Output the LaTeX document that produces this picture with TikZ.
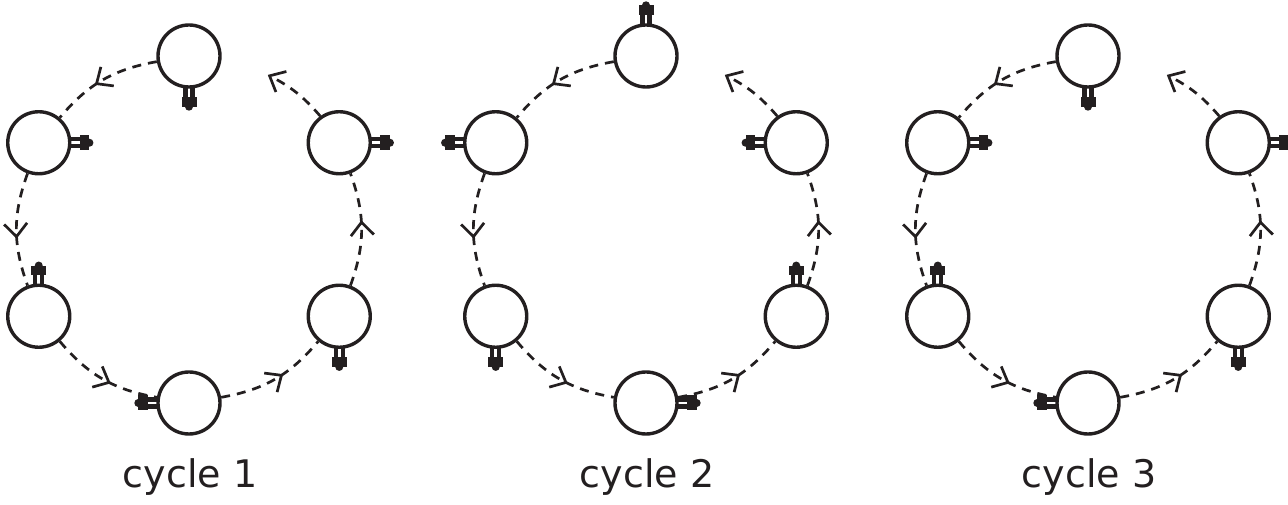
\documentclass[tikz,border=0pt]{standalone}
\usepackage{fontspec}
\setmainfont{DejaVu Sans}
\usetikzlibrary{arrows.meta,decorations.markings}
\definecolor{ink}{HTML}{231F20}
\tikzset{
  phil/.style={circle, draw=ink, line width=3.4pt, minimum size=62pt, inner sep=0pt},
  flow/.style={draw=ink, line width=2.7pt, dash pattern=on 9pt off 7pt},
  midarrow/.style={postaction={decorate}, decoration={markings,
      mark=at position 0.58 with {\arrow{Straight Barb[length=13pt,width=23pt]}}}},
  endarrow/.style={-{Straight Barb[length=13pt,width=23pt]}},
  forkpic/.pic={
    \fill[ink] (-1,1.4) rectangle (9,5.6);
    \fill[ink] (-1,-5.6) rectangle (9,-1.4);
    \fill[ink] (8.5,-7.5) rectangle (18,7.5);
    \fill[ink] (18,0) circle (4);
  },
  lbl/.style={font=\fontsize{38}{42}\selectfont, text=ink, anchor=base, inner sep=0pt}
}
\begin{document}
\begin{tikzpicture}[x=1pt,y=1pt]
\useasboundingbox (0,0) rectangle (1288,505);
\foreach \c/\cx/\forks in {1/189/{270,0,90,180,270,0}, 2/646/{90,180,270,0,90,180}, 3/1088/{270,0,90,180,270,0}}{
  \begin{scope}[shift={(\cx,275.5)}]
    \foreach \f [count=\k from 0] in \forks {
      \node[phil] (p\c-\k) at ({90+60*\k}:173.5) {};
      \pic[rotate=\f] at (p\c-\k.\f) {forkpic};
    }
    \foreach \k [evaluate=\k as \n using int(\k+1)] in {0,...,4}
      \draw[flow,midarrow] (p\c-\k) to[bend right=20] (p\c-\n);
    \coordinate (e\c) at (63:173.5);
    \draw[flow,endarrow] (p\c-5) to[bend right=11] (e\c);
  \end{scope}
  \node[lbl] (t\c) at (\cx+1,17) {cycle \c};
}
\end{tikzpicture}
\end{document}
